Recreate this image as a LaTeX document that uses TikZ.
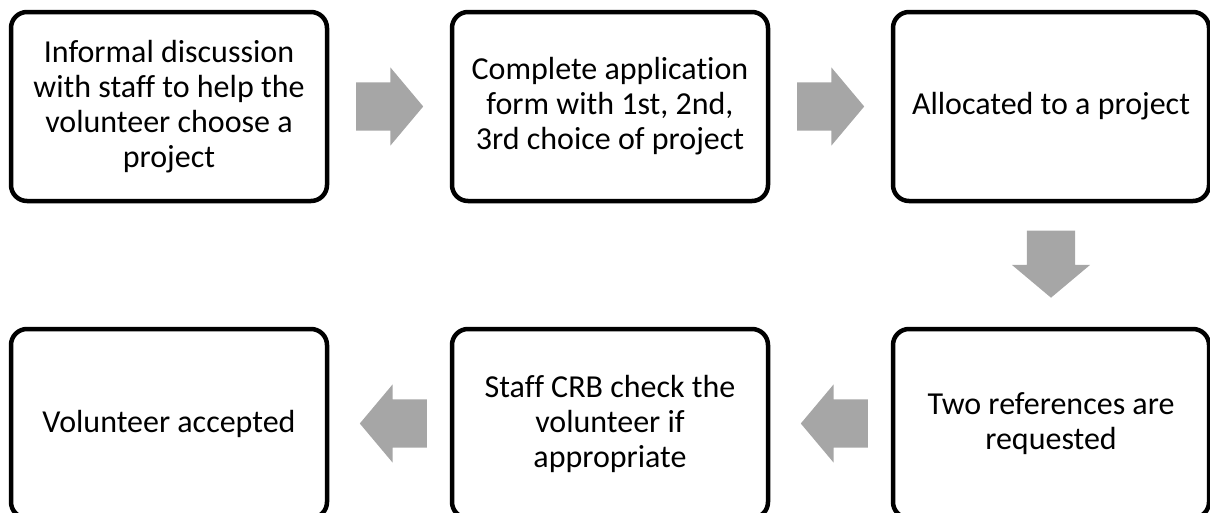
\documentclass[tikz,border=0pt]{standalone}
\usepackage{fontspec}
\setmainfont{Carlito}[Ligatures=NoCommon]
\usepackage{tikz}
\usetikzlibrary{positioning,calc,shapes.arrows}
\definecolor{arrow-gray}{RGB}{166,166,166}
\tikzset{
    flow-box/.style = {draw=black, fill=white, line width=4.5pt, rectangle, rounded corners=16pt, minimum width=316pt, minimum height=189pt, inner sep=0pt, outer sep=0pt, align=center, font=\fontsize{32}{35}\selectfont},
    flow-arrow/.style = {single arrow, fill=arrow-gray, draw=none, minimum height=67pt, minimum width=78pt, single arrow head extend=15pt, single arrow tip angle=100, inner xsep=0pt, inner ysep=24pt, anchor=tail},
}

\begin{document}
\begin{tikzpicture}[x=1pt,y=1pt]
\useasboundingbox (0,0) rectangle (1210,-512);
\node [flow-box] (discuss) at (169,-106.5) {Informal discussion\\with staff to help the\\volunteer choose a\\project};
\node [flow-box, right=125pt of discuss] (apply) {Complete application\\form with 1st, 2nd,\\3rd choice of project};
\node [flow-box, right=125pt of apply] (allocate) {Allocated to a project};
\node [flow-box, below=128pt of allocate] (refs) {Two references are\\requested};
\node [flow-box, left=125pt of refs] (crb) {Staff CRB check the\\volunteer if\\appropriate};
\node [flow-box, left=125pt of crb] (accepted) {Volunteer accepted};
% block arrows between the steps
\node [flow-arrow] (arr-a) at ($(discuss.east)!0.5!(apply.west)+(-33.5,0)$) {};
\node [flow-arrow] (arr-b) at ($(apply.east)!0.5!(allocate.west)+(-33.5,0)$) {};
\node [flow-arrow, rotate=270] (arr-c) at ($(allocate.south)!0.5!(refs.north)+(0,34.5)$) {};
\node [flow-arrow, rotate=180] (arr-d) at ($(refs.west)!0.5!(crb.east)+(37.5,0)$) {};
\node [flow-arrow, rotate=180] (arr-e) at ($(crb.west)!0.5!(accepted.east)+(37.5,0)$) {};
\end{tikzpicture}
\end{document}
